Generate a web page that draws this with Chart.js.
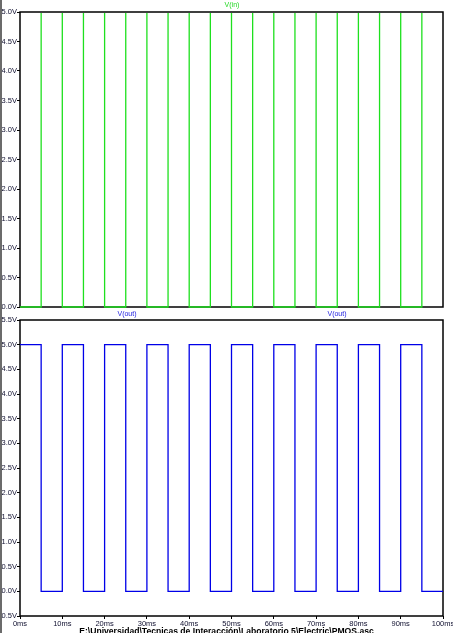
<!DOCTYPE html>
<html lang="en">
<head>
    <meta charset="UTF-8">
    <title>PMOS transient</title>
    <script src="https://cdn.jsdelivr.net/npm/chart.js"></script>
    <style>
        body {
    margin: 0;
    width: 453px;
    height: 633px;
    background: #fff;
    overflow: hidden;
    position: relative;
    font-family: 'Liberation Sans', Arial, sans-serif;
}

/* grey strip on the left edge */
.edge {
    position: absolute;
    left: 0;
    top: 0;
    width: 2px;
    height: 633px;
    background: #6b6b6b;
}

.pane {
    position: absolute;
    left: 0;
    width: 453px;
}

.trace-label {
    position: absolute;
    font-size: 7px;
    line-height: 8px;
    transform: translateX(-50%);
    white-space: nowrap;
}

.path {
    position: absolute;
    top: 626px;
    left: 0;
    width: 453px;
    text-align: center;
    font-weight: bold;
    font-size: 8.6px;
    line-height: 11px;
    color: #000;
    white-space: nowrap;
}
    </style>
</head>
<body>
    <div class="pane" style="top:0;height:316px"><canvas id="inChart" width="453" height="316"></canvas></div>
    <div class="pane" style="top:300px;height:333px"><canvas id="outChart" width="453" height="333"></canvas></div>
    <div class="edge"></div>

    <div class="trace-label" style="left:232px;top:1px;color:#20d820">V(in)</div>
    <div class="trace-label" style="left:127px;top:310px;color:#2020e0">V(out)</div>
    <div class="trace-label" style="left:337px;top:310px;color:#2020e0">V(out)</div>
    <div class="path">E:\Universidad\Tecnicas de Interacción\Laboratorio 5\Electric\PMOS.asc</div>

    <script>
// time points (ms) where the square waves switch
const timeMs = [0, 5, 10, 15, 20, 25, 30, 35, 40, 45, 50, 55, 60, 65, 70, 75, 80, 85, 90, 95, 100];
// input voltage (V), held from each point to the next
const vIn = [0, 5, 0, 5, 0, 5, 0, 5, 0, 5, 0, 5, 0, 5, 0, 5, 0, 5, 0, 5, 5];
// output voltage (V)
const vOut = [5, 0, 5, 0, 5, 0, 5, 0, 5, 0, 5, 0, 5, 0, 5, 0, 5, 0, 5, 0, 0];
// axis ranges
const inTicks = { min: 0, max: 5, step: 0.5 };
const outTicks = { min: -0.5, max: 5.5, step: 0.5 };
const timeTicks = { min: 0, max: 100, step: 10 };

const tickFont = { family: 'Liberation Sans', size: 7.5 };
const tickColor = '#101030';

// black box round the plot area
const frame = {
    id: 'frame',
    beforeDatasetsDraw(chart) {
        const a = chart.chartArea;
        const ctx = chart.ctx;
        ctx.save();
        ctx.strokeStyle = '#000';
        ctx.lineWidth = 1.5;
        ctx.strokeRect(a.left, a.top, a.right - a.left, a.bottom - a.top);
        ctx.restore();
    }
};

function yAxis(r) {
    return {
        type: 'linear',
        min: r.min,
        max: r.max,
        afterFit(scale) {
            scale.width = 20;
            scale.paddingTop = 0;
            scale.paddingBottom = 0;
        },
        ticks: {
            stepSize: r.step,
            padding: 0,
            color: tickColor,
            font: tickFont,
            callback: v => v.toFixed(1) + 'V'
        },
        grid: {
            drawOnChartArea: false,
            drawTicks: true,
            tickLength: 3,
            color: '#000',
            lineWidth: 1
        },
        border: { display: false }
    };
}

function points(vals) {
    return timeMs.map((t, i) => ({ x: t, y: vals[i] }));
}

document.addEventListener("DOMContentLoaded", function () {
    Chart.defaults.animation = false;

    new Chart(document.getElementById('inChart'), {
        type: 'line',
        data: {
            datasets: [{
                data: points(vIn),
                stepped: 'before',
                borderColor: '#1ee01e',
                borderWidth: 1.3,
                pointRadius: 0,
                clip: { left: 1, right: 1, top: -1, bottom: 1 }
            }]
        },
        options: {
            responsive: false,
            layout: { padding: { top: 12, bottom: 9, left: 0, right: 10 } },
            plugins: { legend: { display: false }, tooltip: { enabled: false } },
            scales: {
                x: { type: 'linear', min: timeTicks.min, max: timeTicks.max, display: false },
                y: yAxis(inTicks)
            }
        },
        plugins: [frame]
    });

    new Chart(document.getElementById('outChart'), {
        type: 'line',
        data: {
            datasets: [{
                data: points(vOut),
                stepped: 'before',
                borderColor: '#0000e8',
                borderWidth: 1.3,
                pointRadius: 0
            }]
        },
        options: {
            responsive: false,
            layout: { padding: { top: 20, bottom: 4, left: 0, right: 10 } },
            plugins: { legend: { display: false }, tooltip: { enabled: false } },
            scales: {
                x: {
                    type: 'linear',
                    min: timeTicks.min,
                    max: timeTicks.max,
                    afterFit(scale) {
                        scale.height = 13;
                        scale.paddingLeft = 0;
                        scale.paddingRight = 0;
                    },
                    ticks: {
                        stepSize: timeTicks.step,
                        padding: 0,
                        maxRotation: 0,
                        autoSkip: false,
                        color: tickColor,
                        font: tickFont,
                        callback: v => v + 'ms'
                    },
                    grid: {
                        drawOnChartArea: false,
                        drawTicks: true,
                        tickLength: 3,
                        color: '#000',
                        lineWidth: 1
                    },
                    border: { display: false }
                },
                y: yAxis(outTicks)
            }
        },
        plugins: [frame]
    });
});
    </script>
</body>
</html>
